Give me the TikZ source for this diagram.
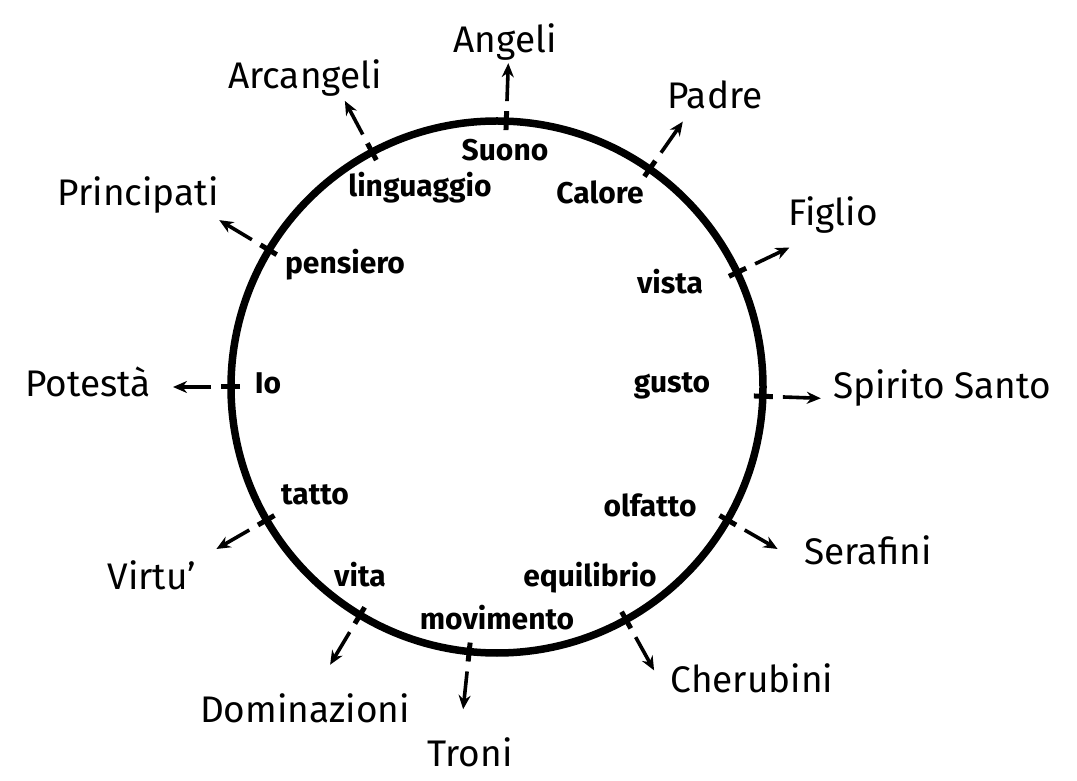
\documentclass[tikz,border=0pt]{standalone}
\usepackage{fontspec}
\setmainfont{Fira Sans}
\usetikzlibrary{arrows.meta,calc}

\begin{document}
\begin{tikzpicture}[
  x=1pt, y=1pt,
  ring/.style={line width=7.5pt},
  tick/.style={line width=5pt},
  arr/.style={-{Stealth[length=14pt,width=12pt]}, line width=3.6pt},
  outer/.style={inner sep=1pt, font=\fontsize{37}{40}\selectfont},
  inner/.style={inner sep=1pt, font=\fontsize{30}{32}\selectfont\bfseries}
]
\useasboundingbox (0,0) rectangle (1077,780);
\coordinate (c) at (497,393);
\draw[ring] (c) circle[radius=266];

% ticks on the ring and the short arrows that leave them
\foreach \ang/\nm in {88/angeli, 118/arcangeli, 55/padre, 25.5/figlio,
                      -2/spirito, -30/serafini, -61/cherubini, -96/troni,
                      -121/dominazioni, -150/virtu, 180/potesta, 149/principati}{
  \coordinate (t-\nm) at ($(c)+(\ang:266)$);
  \draw[tick] ($(c)+(\ang:257)$) -- ($(c)+(\ang:276)$);
  \coordinate (s-\nm) at ($(c)+(\ang:286)$);
  \coordinate (e-\nm) at ($(c)+(\ang:324)$);
  \draw[arr] (s-\nm) -- (e-\nm);
}

% outer ring of names
\node[outer] (angeli)      at (505,738) {Angeli};
\node[outer] (arcangeli)   at (305,702) {Arcangeli};
\node[outer] (padre)       at (715,685) {Padre};
\node[outer] (figlio)      at (833,565) {Figlio};
\node[outer] (spirito)     at (942,392) {Spirito Santo};
\node[outer] (serafini)    at (868,230) {Serafini};
\node[outer] (cherubini)   at (752,102) {Cherubini};
\node[outer] (troni)       at (470,28)  {Troni};
\node[outer] (dominazioni) at (305,72)  {Dominazioni};
\node[outer] (virtu)       at (152,205) {Virtu'};
\node[outer] (potesta)     at (88,398)  {Potestà};
\node[outer] (principati)  at (138,585) {Principati};

% inside the ring
\node[inner] (suono)      at (505,630) {Suono};
\node[inner] (linguaggio) at (420,592) {linguaggio};
\node[inner] (calore)     at (600,588) {Calore};
\node[inner] (vista)      at (670,498) {vista};
\node[inner] (pensiero)   at (345,515) {pensiero};
\node[inner] (io)         at (268,397) {Io};
\node[inner] (gusto)      at (672,394) {gusto};
\node[inner] (tatto)      at (315,285) {tatto};
\node[inner] (olfatto)    at (650,275) {olfatto};
\node[inner] (vita)       at (360,205) {vita};
\node[inner] (equilibrio) at (590,202) {equilibrio};
\node[inner] (movimento)  at (497,162) {movimento};
\end{tikzpicture}
\end{document}
